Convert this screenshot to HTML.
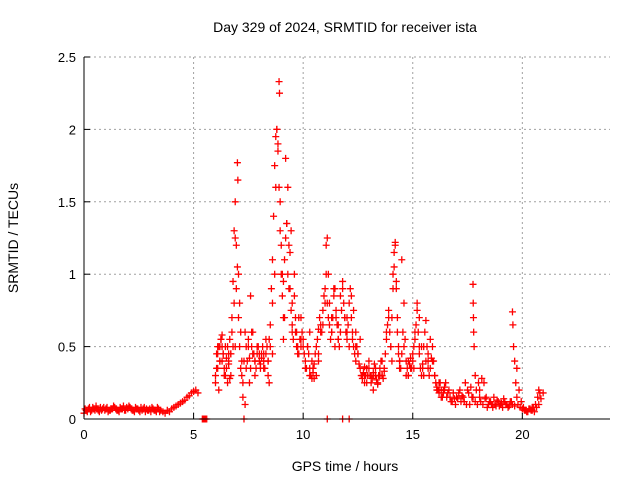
<!DOCTYPE html>
<html><head><meta charset="utf-8"><style>
body{margin:0;background:#fff;}
svg{display:block;font-family:"Liberation Sans",sans-serif;}
</style></head><body>
<svg id="chart" width="640" height="480" viewBox="0 0 640 480">
<text x="345" y="32" font-size="14" text-anchor="middle">Day 329 of 2024, SRMTID for receiver ista</text>
<text transform="translate(18,238) rotate(-90)" font-size="14" text-anchor="middle">SRMTID / TECUs</text>
<text x="345" y="471" font-size="14" text-anchor="middle">GPS time / hours</text>
<g id="grid"></g>
<g id="ticks"></g>
<g id="pts"></g>
<line x1="84" y1="57" x2="84" y2="419" stroke="#000" stroke-width="1"/>
<line x1="84" y1="419" x2="610" y2="419" stroke="#000" stroke-width="1"/>
</svg>
<script>
const xTicks=[0,5,10,15,20];
const yTicks=[0,0.5,1,1.5,2,2.5];
const yTickLabels=["0","0.5","1","1.5","2","2.5"];
const hours=[0,0.1,0.2,0.3,0.4,0.5,0.6,0.7,0.8,0.9,1.0,1.1,1.2,1.3,1.4,1.5,1.6,1.7,1.8,1.9,2.0,2.1,2.2,2.3,2.4,2.5,2.6,2.7,2.8,2.9,3.0,3.1,3.2,3.3,3.4,3.5,
3.6,3.7,3.8,3.9,4.0,4.1,4.2,4.3,4.4,4.5,4.6,4.7,4.8,4.9,5.0,5.1,5.2,
6.0,6.05,6.1,6.15,6.2,6.25,6.3,6.35,6.4,6.45,6.5,6.55,6.6,6.65,6.7,6.75,6.8,6.85,6.9,6.95,7.0,7.02,7.05,7.1,7.15,7.2,7.25,7.35,7.5,7.6,7.65,7.7,7.8,7.9,8.0,8.1,8.2,8.3,8.4,8.5,8.6,8.7,8.75,8.8,8.85,8.9,8.92,8.95,9.0,9.05,9.1,9.2,9.25,9.3,9.35,9.4,9.45,9.5,9.6,9.65,9.7,9.8,9.9,10.0,10.1,10.2,10.3,10.4,10.5,10.6,10.7,10.8,10.9,11.0,11.05,11.1,11.15,11.2,11.3,11.4,11.5,11.6,11.7,11.8,11.9,12.0,12.1,12.2,12.3,12.4,12.5,12.6,12.7,12.8,12.9,13.0,13.1,13.2,13.3,13.4,13.5,13.6,13.7,13.8,13.9,14.0,14.1,14.15,14.2,14.25,14.3,14.35,14.4,14.5,14.6,14.7,14.8,14.9,15.0,15.1,15.2,15.3,15.4,15.5,15.6,15.7,15.8,15.9,16.0,16.1,16.2,16.3,16.4,16.5,16.6,16.7,16.8,16.9,17.0,17.1,17.2,17.3,17.4,17.5,17.6,17.7,17.75,17.76,17.77,17.78,17.8,17.85,17.9,18.0,18.1,18.2,18.3,18.4,18.5,18.6,18.7,18.8,18.9,19.0,19.1,19.2,19.3,19.4,19.5,19.55,19.57,19.6,19.65,19.7,19.75,19.8,19.9,20.0,20.1,20.2,20.3,20.4,20.5,20.6,20.7,20.75,20.8,
5.4,5.45,5.5,5.55,5.6,7.3,11.1,11.8,12.1,
6.1,6.3,6.6,6.9,7.4,7.8,8.2,8.4,8.6,9.1,9.5,9.9,10.3,10.7,11.3,11.6,12.0,12.4,12.8,13.2,13.6,14.4,14.8,15.3,15.7,16.2,6.2,6.7,7.55,8.05,8.45,9.15,9.75,10.45,11.45,12.25,12.95,13.45,14.05,15.05,15.45,16.45,18.05,18.65,20.45];
const values=[0.04,0.06,0.07,0.05,0.08,0.06,0.07,0.05,0.06,0.08,0.07,0.05,0.06,0.07,0.08,0.06,0.05,0.07,0.09,0.06,0.07,0.08,0.06,0.05,0.07,0.06,0.08,0.07,0.05,0.06,0.07,0.08,0.06,0.05,0.07,0.06,
0.05,0.04,0.06,0.05,0.07,0.08,0.09,0.1,0.11,0.12,0.13,0.15,0.16,0.18,0.19,0.2,0.18,
0.3,0.45,0.5,0.2,0.4,0.55,0.58,0.45,0.3,0.5,0.35,0.25,0.4,0.55,0.3,0.7,0.95,1.3,1.5,1.2,1.77,1.65,1.0,0.8,0.6,0.4,0.15,0.1,0.5,0.85,0.6,0.45,0.3,0.5,0.4,0.45,0.35,0.55,0.3,0.5,0.8,1.0,1.6,2.0,1.9,2.33,2.25,1.5,1.2,1.0,0.7,1.8,1.35,1.6,1.2,0.9,1.3,0.8,1.0,0.6,0.5,0.7,0.55,0.5,0.35,0.5,0.6,0.4,0.28,0.3,0.4,0.6,0.65,0.8,1.2,1.25,1.0,0.8,0.6,0.9,0.7,0.55,0.85,0.95,0.7,0.6,0.5,0.85,0.75,0.6,0.45,0.55,0.3,0.25,0.35,0.4,0.3,0.2,0.35,0.25,0.3,0.4,0.35,0.6,0.7,0.5,1.0,1.15,1.22,0.9,0.6,0.45,0.35,1.1,0.5,0.3,0.4,0.35,0.45,0.6,0.8,0.7,0.5,0.3,0.4,0.45,0.55,0.4,0.3,0.2,0.25,0.15,0.2,0.25,0.18,0.15,0.12,0.14,0.15,0.18,0.12,0.15,0.25,0.2,0.1,0.15,0.93,0.8,0.7,0.6,0.5,0.3,0.2,0.25,0.12,0.1,0.14,0.08,0.12,0.1,0.15,0.09,0.12,0.1,0.08,0.12,0.1,0.09,0.12,0.74,0.65,0.5,0.4,0.25,0.15,0.1,0.08,0.07,0.06,0.05,0.07,0.06,0.08,0.1,0.15,0.2,0.18,
0,0,0,0,0,0,0,0,0,
0.35,0.4,0.45,0.5,0.35,0.4,0.45,0.4,0.45,0.55,0.6,0.5,0.3,0.45,0.7,0.65,0.7,0.5,0.3,0.3,0.3,0.4,0.3,0.5,0.35,0.2,0.5,0.45,0.25,0.35,0.25,0.7,0.45,0.35,0.5,0.6,0.3,0.3,0.4,0.35,0.35,0.2,0.15,0.1,0.08];
const extraStarts=[6.0,0.05,16.55];
const extraSteps=[0.05,0.1,0.1];
const extraValuesA=[0.25,0.35,0.45,0.5,0.4,0.55,0.5,0.45,0.35,0.3,0.42,0.5,0.38,0.28,0.45,0.6,0.5,0.8,1.25,0.9,
1.05,0.7,0.5,0.35,0.3,0.25,0.4,0.6,0.5,0.4,0.55,0.42,0.35,0.5,0.6,0.45,0.4,0.35,0.45,0.5,
0.45,0.38,0.42,0.5,0.4,0.35,0.45,0.5,0.4,0.55,0.65,0.9,1.1,1.4,1.75,1.95,2.0,1.85,1.6,1.3,
1.0,0.85,0.95,1.1,1.25,1.35,1.0,0.9,1.15,0.75,0.65,0.55,0.85,0.7,0.6,0.5,0.45,0.55,0.7,0.6,
0.55,0.45,0.4,0.35,0.5,0.45,0.35,0.3,0.28,0.32,0.38,0.45,0.5,0.55,0.62,0.7,0.65,0.6,0.75,0.85,
0.9,1.0,0.8,0.7,0.65,0.55,0.6,0.7,0.85,0.9,0.75,0.65,0.55,0.5,0.6,0.75,0.9,0.8,0.7,0.6,
0.55,0.65,0.8,0.9,0.7,0.55,0.5,0.45,0.4,0.5,0.45,0.38,0.35,0.3,0.28,0.32,0.36,0.3,0.25,0.3,
0.35,0.3,0.25,0.28,0.32,0.38,0.3,0.27,0.24,0.3,0.35,0.4,0.3,0.28,0.33,0.45,0.55,0.65,0.75,0.6,
0.5,0.7,0.9,1.05,1.2,0.95,0.7,0.5,0.4,0.35,0.45,0.6,0.8,0.55,0.4,0.35,0.3,0.38,0.42,0.35,
0.4,0.5,0.55,0.65,0.75,0.6,0.45,0.35,0.3,0.38,0.5,0.6,0.68,0.5,0.4,0.3,0.35,0.42,0.5,0.4,
0.3,0.25,0.22,0.2,0.18,0.25,0.2,0.15,0.18,0.22];
const extraValuesB=[0.07,0.05,0.08,0.06,0.07,0.09,0.06,0.08,0.07,0.06,0.08,0.06,0.07,0.09,0.07,0.06,0.08,0.07,0.06,0.08,0.09,0.07,0.06,0.08,0.07,0.05,0.06,0.08,0.07,0.06,0.05,0.07,0.06,0.08,0.05];
const extraValuesC=[0.15,0.2,0.12,0.18,0.1,0.14,0.2,0.16,0.12,0.1,0.18,0.22,0.15,0.12,0.1,0.2,0.28,0.25,0.15,0.1,0.12,0.08,0.1,0.13,0.09,0.11,0.14,0.1,0.08,0.12,0.1,0.09,0.35,0.2,0.12,0.08,0.06,0.05,0.07,0.06,0.05,0.08,0.1,0.14,0.18];
const X0=84,X1=610,Y0=419,Y1=57;
const xs=h=>X0+(h/24)*(X1-X0);
const ys=v=>Y0-(v/2.5)*(Y0-Y1);
const NS="http://www.w3.org/2000/svg";
const grid=document.getElementById('grid'),ticks=document.getElementById('ticks'),pts=document.getElementById('pts');
function mk(t,a,p){const e=document.createElementNS(NS,t);for(const k in a)e.setAttribute(k,a[k]);p.appendChild(e);return e;}
xTicks.forEach(t=>{const x=xs(t);
 if(t>0){const g=mk('line',{x1:x,y1:Y0,x2:x,y2:Y1,stroke:'#a0a0a0','stroke-dasharray':'2,3'},grid);
 
 }
 const tk=mk('line',{x1:x,y1:Y0,x2:x,y2:Y0-6,stroke:'#000'},ticks);
 
 
 const l=mk('text',{x:x,y:Y0+20,'font-size':13,'text-anchor':'middle'},ticks);l.textContent=t;
 
 });
yTicks.forEach((t,i)=>{const y=ys(t);
 if(t>0){const g=mk('line',{x1:X0,y1:y,x2:X1,y2:y,stroke:'#a0a0a0','stroke-dasharray':'2,3'},grid);
 
 }
 const tk=mk('line',{x1:X0,y1:y,x2:X0+6,y2:y,stroke:'#000'},ticks);
 
 
 const l=mk('text',{x:X0-8,y:y+5,'font-size':13,'text-anchor':'end'},ticks);l.textContent=yTickLabels[i];
 
 });
function plus(h,v){const x=xs(h),y=ys(v);
 const p=mk('path',{d:`M${x-3.5},${y}H${x+3.5}M${x},${y-3.5}V${y+3.5}`,stroke:'#ff0000','stroke-width':1.3,fill:'none'},pts);
 
 }
hours.forEach((h,i)=>plus(h,values[i]));
[extraValuesA,extraValuesB,extraValuesC].forEach((arr,k)=>arr.forEach((v,i)=>plus(extraStarts[k]+i*extraSteps[k],v)));
</script>
</body></html>
